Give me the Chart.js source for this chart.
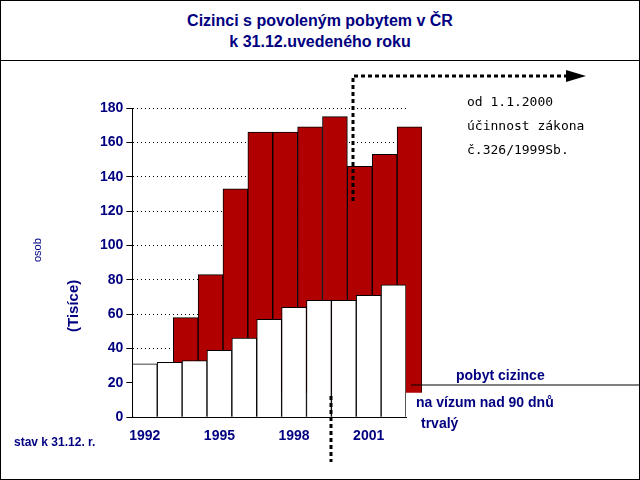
<!DOCTYPE html>
<html lang="cs">
<head>
<meta charset="UTF-8">
<script src="https://cdn.jsdelivr.net/npm/chart.js"></script>
<style>
  body { margin: 0; width: 640px; height: 480px; overflow: hidden; background: #fff; }
  #frame { position: absolute; left: 0; top: 0; width: 638px; height: 478px; border: 1px solid #000; }
  #title { height: 60px; border-bottom: 1px solid #000; text-align: center; color: #000080;
    font: bold 16px "Liberation Sans", Arial, sans-serif; line-height: 21px; padding-top: 9px; box-sizing: border-box; }
  #wrap { position: absolute; left: 0; top: 61px; width: 638px; height: 417px; }
</style>
</head>
<body>
<div id="frame">
  <div id="title">Cizinci s povoleným pobytem v ČR<br>k 31.12.uvedeného roku</div>
  <div id="wrap"><canvas id="c" width="638" height="417"></canvas></div>
</div>
<script>
const years = ['1992','1993','1994','1995','1996','1997','1998','1999','2000','2001','2002'];
const shownYears = ['1992','1995','1998','2001'];
const permanent = [31, 32, 33, 39, 46, 57, 64, 68, 68, 71, 77];
const visa = [null, 44, 69, 119, 152, 152, 155, 161, 132, 139, 155];
const yTicks = [0,20,40,60,80,100,120,140,160,180];
const navy = '#000080';

const shift = {
  id: 'shift',
  beforeDatasetDraw(chart, args) {
    chart.ctx.save();
    if (args.index === 0) chart.ctx.translate(16, -24);
  },
  afterDatasetDraw(chart) { chart.ctx.restore(); }
};

const extras = {
  id: 'extras',
  afterDraw(chart) {
    const ctx = chart.ctx;
    ctx.save();
    ctx.fillStyle = navy;
    ctx.font = 'bold 14px "Liberation Sans", Arial';
    ctx.fillText('pobyt cizince', 455, 318);
    ctx.fillText('na vízum nad 90 dnů', 415, 345);
    ctx.fillText('trvalý', 420, 366);
    ctx.font = 'bold 12px "Liberation Sans", Arial';
    ctx.fillText('stav k 31.12. r.', 13, 384);
    ctx.save();
    ctx.translate(77, 270); ctx.rotate(-Math.PI/2);
    ctx.font = 'bold 15px "Liberation Sans", Arial';
    ctx.fillText('(Tisíce)', 0, 0);
    ctx.restore();
    ctx.save();
    ctx.translate(40, 200); ctx.rotate(-Math.PI/2);
    ctx.font = '11px "Liberation Sans", Arial';
    ctx.fillText('osob', 0, 0);
    ctx.restore();
    ctx.strokeStyle = '#000'; ctx.lineWidth = 1;
    ctx.beginPath(); ctx.moveTo(410, 323); ctx.lineTo(638, 323); ctx.stroke();
    ctx.setLineDash([4, 3]); ctx.lineWidth = 3;
    ctx.beginPath(); ctx.moveTo(330, 334); ctx.lineTo(330, 400); ctx.stroke();
    ctx.beginPath(); ctx.moveTo(352, 139); ctx.lineTo(352, 14); ctx.lineTo(565, 14); ctx.stroke();
    ctx.setLineDash([]);
    ctx.fillStyle = '#000';
    ctx.beginPath(); ctx.moveTo(565, 8); ctx.lineTo(585, 14); ctx.lineTo(565, 20); ctx.fill();
    ctx.font = '13px "DejaVu Sans Mono", monospace';
    ctx.fillText('od 1.1.2000', 466, 44);
    ctx.fillText('účinnost zákona', 466, 68);
    ctx.fillText('č.326/1999Sb.', 466, 92);
    ctx.restore();
  }
};

new Chart(document.getElementById('c'), {
  type: 'bar',
  data: {
    labels: years,
    datasets: [
      { label: 'na vízum nad 90 dnů', data: visa, order: 1, backgroundColor: '#b00000', borderColor: '#000', borderWidth: 1 },
      { label: 'trvalý', data: permanent, order: 0, backgroundColor: '#fff', borderColor: '#000', borderWidth: 1 }
    ]
  },
  options: {
    responsive: false, animation: false,
    layout: { padding: { left: 96, right: 233, top: 46, bottom: 31 } },
    datasets: { bar: { grouped: false, categoryPercentage: 1, barPercentage: 1 } },
    plugins: { legend: { display: false }, tooltip: { enabled: false } },
    scales: {
      x: {
        grid: { display: false },
        border: { color: '#000' },
        ticks: {
          color: navy, font: { weight: 'bold', size: 14, family: '"Liberation Sans", Arial' },
          autoSkip: false, maxRotation: 0,
          callback: (v, i) => shownYears.includes(years[i]) ? years[i] : ''
        }
      },
      y: {
        min: 0, max: 180,
        afterBuildTicks: s => { s.ticks = yTicks.map(v => ({ value: v })); },
        grid: { color: '#000', drawTicks: true, tickLength: 6 },
        border: { color: '#000', dash: [1, 3] },
        ticks: { color: navy, font: { weight: 'bold', size: 14, family: '"Liberation Sans", Arial' } }
      }
    }
  },
  plugins: [shift, extras]
});
</script>
</body>
</html>
